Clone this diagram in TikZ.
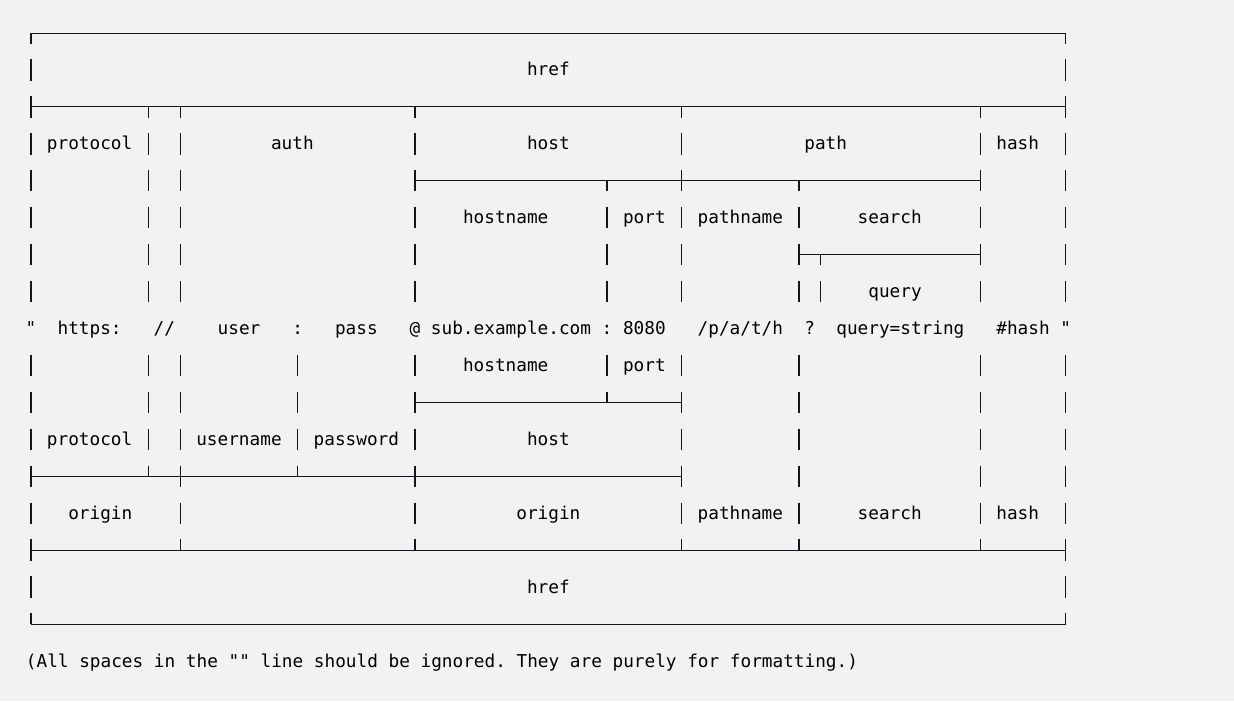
\documentclass[tikz,border=0pt]{standalone}
\usepackage{fontspec}
\setmonofont{DejaVu Sans Mono}
\definecolor{pagebg}{HTML}{F2F2F2}
\definecolor{ink}{HTML}{141420}
\begin{document}
\begin{tikzpicture}[x=8pt,y=-27.705pt,
  cell/.style={font=\ttfamily\fontsize{13.29}{16}\selectfont, text=black, inner sep=0pt, text height=12pt, text depth=3pt},
  rule/.style={draw=ink, line width=0.75pt},
  bar/.style={draw=ink, line width=1.1pt}]

\fill[pagebg] (-2.906,-0.894) rectangle (112.78,18.087);

% horizontal rules
\foreach \r/\a/\b in {0/0/97, 2/0/97, 4/36/89, 6/72/89, 10/36/61, 12/0/61, 14/0/97, 16/0/97}
  \draw[rule] (\a,\r) -- (\b,\r);

% vertical bars, one piece per row
\foreach \r/\cols in {1/{0,97}, 2/{0,97}, 3/{0,11,14,36,61,89,97}, 4/{0,11,14,36,61,89,97},
    5/{0,11,14,36,54,61,72,89,97}, 6/{0,11,14,36,54,61,72,89,97}, 7/{0,11,14,36,54,61,72,74,89,97},
    9/{0,11,14,25,36,54,61,72,89,97}, 10/{0,11,14,25,36,61,72,89,97}, 11/{0,11,14,25,36,61,72,89,97},
    12/{0,14,36,61,72,89,97}, 13/{0,14,36,61,72,89,97}, 14/{0,97}, 15/{0,97}}
  \foreach \c in \cols
    \draw[bar] (\c,\r-0.29) -- (\c,\r+0.29);
\foreach \r/\c in {0/0, 0/97, 2/11, 2/14, 2/36, 2/61, 2/89, 4/54, 4/72, 6/74}
  \draw[bar] (\c,\r) -- (\c,\r+0.29);
\foreach \r/\c in {10/54, 12/11, 12/25, 14/14, 14/36, 14/61, 14/72, 14/89, 16/0, 16/97}
  \draw[bar] (\c,\r-0.29) -- (\c,\r);

% upper labels
\node[cell] (hreftop) at (48.5,1) {href};
\node[cell] (protocol) at (5.5,3) {protocol};
\node[cell] (auth) at (24.5,3) {auth};
\node[cell] (host) at (48.5,3) {host};
\node[cell] (path) at (74.5,3) {path};
\node[cell] (hash) at (92.5,3) {hash};
\node[cell] (hostname) at (44.5,5) {hostname};
\node[cell] (port) at (57.5,5) {port};
\node[cell] (pathname) at (66.5,5) {pathname};
\node[cell] (search) at (80.5,5) {search};
\node[cell] (query) at (81,7) {query};

% the url line
\node[cell] (quoteleft) at (0,8) {"};
\node[cell] (https) at (5.5,8) {https:};
\node[cell] (slashes) at (12.5,8) {//};
\node[cell] (user) at (19.5,8) {user};
\node[cell] (colonauth) at (25,8) {:};
\node[cell] (pass) at (30.5,8) {pass};
\node[cell] (atsign) at (36,8) {@};
\node[cell] (domain) at (45,8) {sub.example.com};
\node[cell] (colonport) at (54,8) {:};
\node[cell] (portnum) at (57.5,8) {8080};
\node[cell] (pathstr) at (66.5,8) {/p/a/t/h};
\node[cell] (qmark) at (73,8) {?};
\node[cell] (querystr) at (81.5,8) {query=string};
\node[cell] (hashstr) at (93,8) {\#hash};
\node[cell] (quoteright) at (97,8) {"};

% lower labels
\node[cell] (hostnamelow) at (44.5,9) {hostname};
\node[cell] (portlow) at (57.5,9) {port};
\node[cell] (protocollow) at (5.5,11) {protocol};
\node[cell] (username) at (19.5,11) {username};
\node[cell] (password) at (30.5,11) {password};
\node[cell] (hostlow) at (48.5,11) {host};
\node[cell] (originleft) at (6.5,13) {origin};
\node[cell] (originmid) at (48.5,13) {origin};
\node[cell] (pathnamelow) at (66.5,13) {pathname};
\node[cell] (searchlow) at (80.5,13) {search};
\node[cell] (hashlow) at (92.5,13) {hash};
\node[cell] (hrefbot) at (48.5,15) {href};

\node[cell, anchor=west] (note) at (-0.5,17) {(All spaces in the "" line should be ignored. They are purely for formatting.)};

\end{tikzpicture}
\end{document}
